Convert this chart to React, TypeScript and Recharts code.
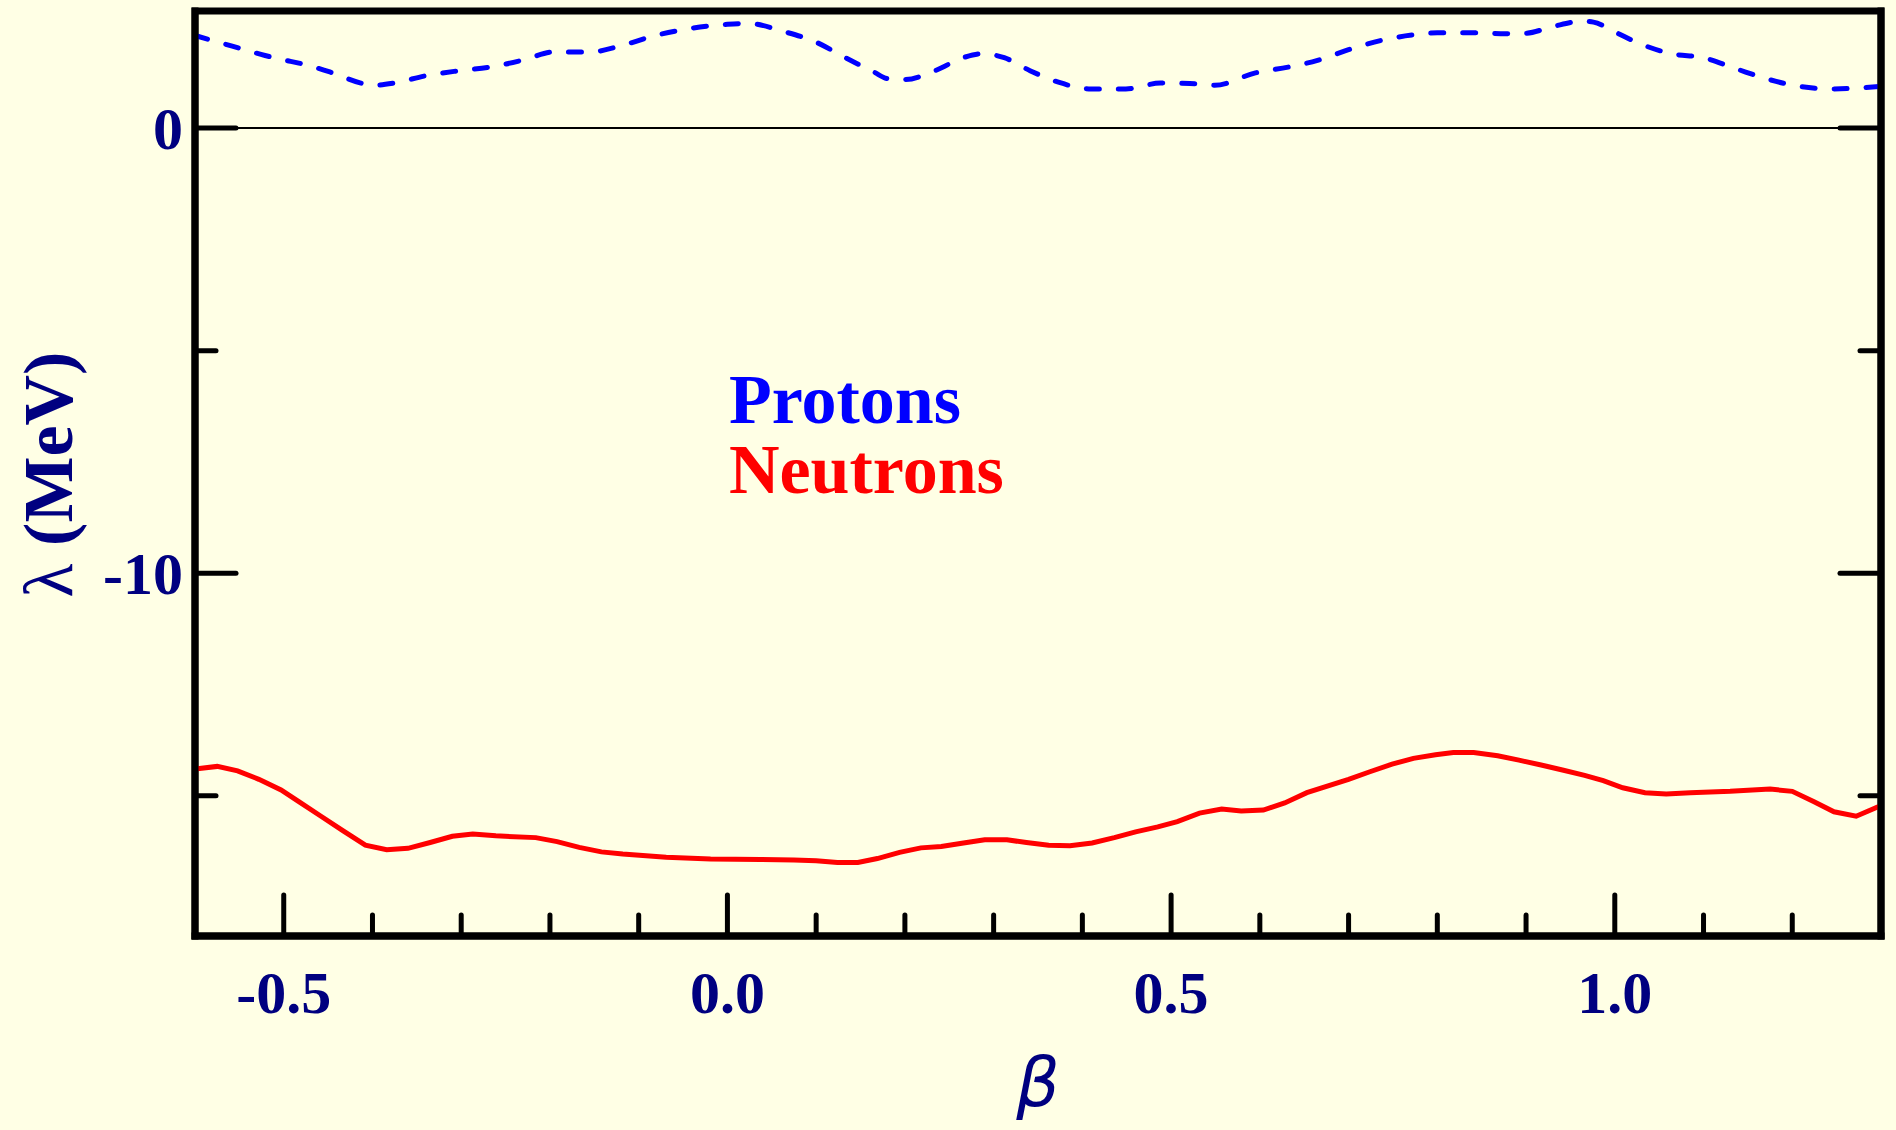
import { LineChart, Line, XAxis, YAxis, ReferenceLine, ReferenceArea, Legend } from 'recharts';

// proton Fermi level (dashed blue)
const protonBeta = [
  -0.6, -0.558, -0.521, -0.5, -0.483, -0.448, -0.413, -0.4, -0.376, -0.339, -0.302, -0.265, -0.228, -0.196,
  -0.155, -0.118, -0.085, -0.044, 0.0, 0.023, 0.065, 0.1, 0.132, 0.165, 0.181, 0.2, 0.234, 0.267, 0.287,
  0.312, 0.341, 0.373, 0.41, 0.449, 0.488, 0.521, 0.549, 0.595, 0.632, 0.665, 0.7, 0.739, 0.776, 0.8, 0.838,
  0.877, 0.9, 0.93, 0.963, 0.976, 1.0, 1.029, 1.064, 1.1, 1.137, 1.174, 1.207, 1.245, 1.274, 1.3,
];
const protonLambda = [
  2.08, 1.84, 1.63, 1.53, 1.46, 1.26, 1.01, 0.96, 1.01, 1.18, 1.29, 1.38, 1.54, 1.71,
  1.71, 1.86, 2.06, 2.23, 2.33, 2.35, 2.16, 1.93, 1.59, 1.26, 1.11, 1.09, 1.29, 1.59, 1.67,
  1.58, 1.29, 1.03, 0.88, 0.88, 1.01, 1.0, 0.96, 1.24, 1.37, 1.52, 1.76, 1.98, 2.1, 2.14, 2.14,
  2.12, 2.13, 2.28, 2.4, 2.38, 2.16, 1.89, 1.67, 1.58, 1.33, 1.09, 0.94, 0.88, 0.9, 0.94,
];

// neutron Fermi level (solid red)
const neutronBeta = [
  -0.6, -0.575, -0.552, -0.528, -0.503, -0.483, -0.458, -0.433, -0.408, -0.384, -0.36, -0.335, -0.31, -0.287,
  -0.261, -0.216, -0.192, -0.167, -0.142, -0.118, -0.069, -0.019, 0.037, 0.075, 0.1, 0.124, 0.147, 0.169,
  0.194, 0.218, 0.241, 0.266, 0.29, 0.315, 0.337, 0.362, 0.386, 0.411, 0.436, 0.46, 0.485, 0.507, 0.532,
  0.557, 0.579, 0.604, 0.628, 0.653, 0.7, 0.724, 0.749, 0.773, 0.798, 0.818, 0.841, 0.868, 0.892, 0.917,
  0.941, 0.966, 0.987, 1.009, 1.034, 1.058, 1.085, 1.13, 1.175, 1.2, 1.224, 1.247, 1.272, 1.3,
];
const neutronLambda = [
  -14.4, -14.34, -14.44, -14.63, -14.87, -15.13, -15.46, -15.79, -16.11, -16.21, -16.18, -16.05, -15.91, -15.86,
  -15.9, -15.94, -16.03, -16.16, -16.26, -16.31, -16.38, -16.42, -16.43, -16.44, -16.46, -16.5, -16.5, -16.41,
  -16.27, -16.17, -16.14, -16.06, -15.99, -15.99, -16.05, -16.11, -16.12, -16.06, -15.94, -15.81, -15.7, -15.58, -15.39,
  -15.3, -15.34, -15.32, -15.16, -14.93, -14.63, -14.46, -14.29, -14.16, -14.08, -14.03, -14.03, -14.1, -14.2, -14.31,
  -14.42, -14.54, -14.66, -14.82, -14.93, -14.96, -14.93, -14.9, -14.85, -14.9, -15.13, -15.36, -15.46, -15.22,
];

const betaDomain = [-0.6, 1.3];
const lambdaDomain = [-18.15, 2.63];
const betaTicks = [-0.5, -0.4, -0.3, -0.2, -0.1, 0, 0.1, 0.2, 0.3, 0.4, 0.5, 0.6, 0.7, 0.8, 0.9, 1.0, 1.1, 1.2];
const lambdaTicks = [0, -5, -10, -15];
const seriesNames = ['Protons', 'Neutrons'];

const protons = protonBeta.map((b, i) => ({ beta: b, lambda: protonLambda[i] }));
const neutrons = neutronBeta.map((b, i) => ({ beta: b, lambda: neutronLambda[i] }));

const BG = '#ffffe5';
const NAVY = '#000080';
const SERIF = '"Liberation Serif", "Times New Roman", serif';
const frame = { stroke: '#000', strokeWidth: 7, strokeLinecap: 'square' as const };
const TICK_W = 5;

const majorBeta = (v: number) => Math.abs(v * 2 - Math.round(v * 2)) < 1e-6;
const majorLambda = (v: number) => v % 10 === 0;

const BottomTick = ({ x, y, payload }: any) => {
  const major = majorBeta(payload.value);
  return (
    <g>
      <line x1={x} y1={y} x2={x} y2={y - (major ? 41 : 21)} stroke="#000" strokeWidth={TICK_W} strokeLinecap="round" />
      {major && (
        <text x={x} y={y + 77} textAnchor="middle" fill={NAVY} fontFamily={SERIF} fontWeight="bold" fontSize={60}>
          {payload.value.toFixed(1)}
        </text>
      )}
    </g>
  );
};

const TopTick = ({ x, y, payload }: any) => {
  const major = majorBeta(payload.value);
  return <line x1={x} y1={y} x2={x} y2={y + (major ? 41 : 21)} stroke="#000" strokeWidth={TICK_W} strokeLinecap="round" />;
};

const LeftTick = ({ x, y, payload }: any) => {
  const major = majorLambda(payload.value);
  return (
    <g>
      <line x1={x} y1={y} x2={x + (major ? 41 : 21)} y2={y} stroke="#000" strokeWidth={TICK_W} strokeLinecap="round" />
      {major && (
        <text x={x - 12} y={y + 21} textAnchor="end" fill={NAVY} fontFamily={SERIF} fontWeight="bold" fontSize={60}>
          {String(payload.value)}
        </text>
      )}
    </g>
  );
};

const RightTick = ({ x, y, payload }: any) => {
  const major = majorLambda(payload.value);
  return <line x1={x} y1={y} x2={x - (major ? 41 : 21)} y2={y} stroke="#000" strokeWidth={TICK_W} strokeLinecap="round" />;
};

const BetaTitle = ({ viewBox }: any) => (
  <text
    x={viewBox.x + viewBox.width / 2}
    y={viewBox.y + 170}
    textAnchor="middle"
    fill={NAVY}
    fontFamily='"DejaVu Sans", sans-serif'
    fontStyle="italic"
    fontSize={68}
  >
    β
  </text>
);

const LambdaTitle = ({ viewBox }: any) => {
  const cx = 72;
  const cy = viewBox.y + viewBox.height / 2 + 1;
  return (
    <text
      x={cx}
      y={cy}
      transform={`rotate(-90 ${cx} ${cy})`}
      textAnchor="middle"
      fill={NAVY}
      fontFamily={SERIF}
      fontSize={70}
    >
      <tspan>λ</tspan>
      <tspan fontWeight="bold"> (MeV)</tspan>
    </text>
  );
};

const SeriesNames = () => (
  <svg width={340} height={160} style={{ display: 'block' }}>
    <text x={0} y={73} fill="#0000ff" fontFamily={SERIF} fontWeight="bold" fontSize={70}>
      {seriesNames[0]}
    </text>
    <text x={0} y={143} fill="#ff0000" fontFamily={SERIF} fontWeight="bold" fontSize={70}>
      {seriesNames[1]}
    </text>
  </svg>
);

export default function App() {
  return (
    <div style={{ position: 'absolute', left: 0, top: 0, width: 1896, height: 1130, background: BG }}>
      <LineChart width={1896} height={1130} margin={{ top: 11, right: 0, bottom: 0, left: 0 }}>
        <XAxis
          xAxisId="b"
          dataKey="beta"
          type="number"
          domain={betaDomain}
          allowDataOverflow
          ticks={betaTicks}
          interval={0}
          height={194}
          tickSize={0}
          tickMargin={0}
          tickLine={false}
          axisLine={frame}
          tick={<BottomTick />}
          label={{ content: BetaTitle }}
        />
        <XAxis
          xAxisId="t"
          orientation="top"
          dataKey="beta"
          type="number"
          domain={betaDomain}
          allowDataOverflow
          ticks={betaTicks}
          interval={0}
          height={0}
          tickSize={0}
          tickMargin={0}
          tickLine={false}
          axisLine={frame}
          tick={<TopTick />}
        />
        <YAxis
          yAxisId="l"
          type="number"
          domain={lambdaDomain}
          allowDataOverflow
          ticks={lambdaTicks}
          interval={0}
          width={195}
          tickSize={0}
          tickMargin={0}
          tickLine={false}
          axisLine={frame}
          tick={<LeftTick />}
          label={{ content: LambdaTitle }}
        />
        <YAxis
          yAxisId="r"
          orientation="right"
          type="number"
          domain={lambdaDomain}
          allowDataOverflow
          ticks={lambdaTicks}
          interval={0}
          width={15}
          tickSize={0}
          tickMargin={0}
          tickLine={false}
          axisLine={frame}
          tick={<RightTick />}
        />
        <ReferenceLine xAxisId="b" yAxisId="l" y={0} stroke="#000" strokeWidth={2} />
        <Line
          xAxisId="b"
          yAxisId="l"
          data={neutrons}
          dataKey="lambda"
          type="linear"
          stroke="#ff0000"
          strokeWidth={5}
          dot={false}
          activeDot={false}
          isAnimationActive={false}
        />
        <Line
          xAxisId="b"
          yAxisId="l"
          data={protons}
          dataKey="lambda"
          type="monotone"
          stroke="#0000ff"
          strokeWidth={5}
          strokeDasharray="13 19"
          strokeLinecap="round"
          dot={false}
          activeDot={false}
          isAnimationActive={false}
        />
        {/* full frame box so all four sides share one stroke */}
        <ReferenceArea
          xAxisId="b"
          yAxisId="l"
          x1={betaDomain[0]}
          x2={betaDomain[1]}
          y1={lambdaDomain[0]}
          y2={lambdaDomain[1]}
          ifOverflow="visible"
          fill="none"
          fillOpacity={0}
          stroke="#000"
          strokeWidth={7}
          strokeOpacity={1}
        />
        <Legend
          layout="horizontal"
          verticalAlign="middle"
          align="center"
          content={SeriesNames}
          wrapperStyle={{ left: 729, top: 350, width: 340, height: 160 }}
        />
      </LineChart>
    </div>
  );
}
